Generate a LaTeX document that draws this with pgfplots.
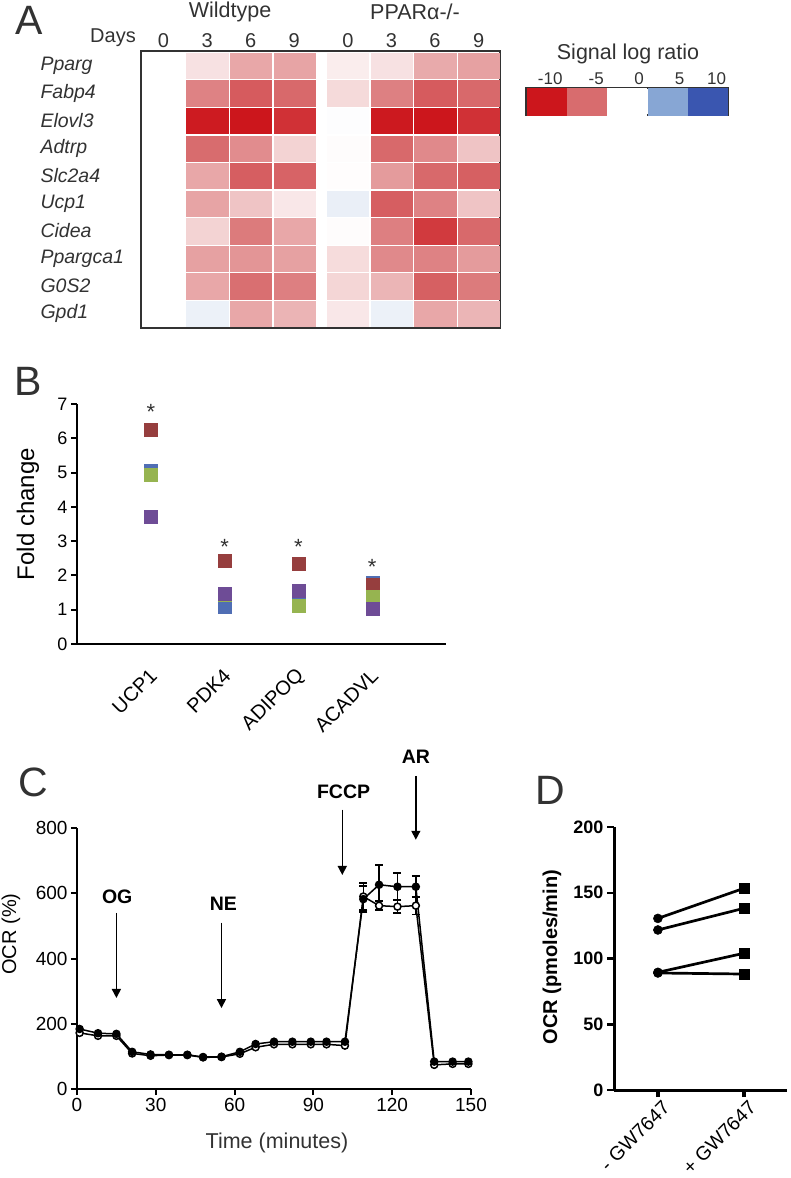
\documentclass[border=0pt]{standalone}
\usepackage{fontspec}
\setmainfont{Liberation Sans}
\usepackage{pgfplots}
\usepackage{pgfplotstable}
\pgfplotsset{compat=1.18}
\usetikzlibrary{arrows.meta}

\definecolor{cRed}{RGB}{150,62,62}
\definecolor{cBlue}{RGB}{80,110,180}
\definecolor{cGreen}{RGB}{150,180,80}
\definecolor{cPurple}{RGB}{110,76,150}
\definecolor{frame}{RGB}{50,50,50}
\newcommand{\fs}[1]{\fontsize{#1}{#1}\selectfont}

\pgfplotsset{colormap={slr}{rgb255=(204,22,28) rgb255=(216,108,110) rgb255=(255,255,255) rgb255=(135,166,212) rgb255=(58,86,176)}}

\pgfplotstableread{
x y v
0 0 0
1 0 -1.0
2 0 -3.0
3 0 -3.1
4.23 0 -0.6
5.23 0 -1.0
6.23 0 -2.9
7.23 0 -3.2
0 1 0
1 1 -4.25
2 1 -6.0
3 1 -5.2
4.23 1 -1.26
5.23 1 -4.3
6.23 1 -6.0
7.23 1 -5.2
0 2 0
1 2 -9.7
2 2 -10
3 2 -8.4
4.23 2 0.1
5.23 2 -9.8
6.23 2 -10
7.23 2 -8.4
0 3 0
1 3 -5.0
2 3 -3.9
3 3 -1.5
4.23 3 -0.1
5.23 3 -5.2
6.23 3 -4.0
7.23 3 -2.0
0 4 0
1 4 -3.0
2 4 -5.8
3 4 -5.5
4.23 4 -0.05
5.23 4 -3.4
6.23 4 -5.2
7.23 4 -5.7
0 5 0
1 5 -3.1
2 5 -2.0
3 5 -0.8
4.23 5 0.9
5.23 5 -5.8
6.23 5 -4.25
7.23 5 -2.0
0 6 0
1 6 -1.5
2 6 -4.5
3 6 -3.0
4.23 6 -0.1
5.23 6 -4.35
6.23 6 -7.9
7.23 6 -5.2
0 7 0
1 7 -3.2
2 7 -3.6
3 7 -3.2
4.23 7 -1.2
5.23 7 -4.0
6.23 7 -4.25
7.23 7 -3.4
0 8 0
1 8 -3.0
2 8 -4.9
3 8 -4.35
4.23 8 -1.4
5.23 8 -2.5
6.23 8 -5.7
7.23 8 -4.5
0 9 0
1 9 0.8
2 9 -3.0
3 9 -2.55
4.23 9 -0.8
5.23 9 0.8
6.23 9 -3.0
7.23 9 -2.5
}\heatdata

\pgfplotstableread{
x y v
0.5 0.5 -10
1.5 0.5 -5
2.5 0.5 0
3.5 0.5 5
4.5 0.5 10
}\legdata

\pgfplotstableread{
x y
0 6.25
1 2.43
2 2.35
3 1.72
}\tRed
\pgfplotstableread{
x y
0 5.05
1 1.10
2 1.20
3 1.78
}\tBlue
\pgfplotstableread{
x y
0 4.93
1 1.45
2 1.11
3 1.38
}\tGreen
\pgfplotstableread{
x y
0 3.73
1 1.46
2 1.57
3 1.02
}\tPurple

\pgfplotstableread{
t f o
1 184 172
8 171 163
15 169 163
21 114 109
28 106 102
35 105 104
42 105 104
48 98 97
55 99 98
62 114 108
68 138 128
75 145 137
82 145 137
89 145 137
95 145 137
102 145 133
109 582 590
115 626 562
122 620 559
129 620 562
136 84 74
143 84 77
149 84 77
}\Cdata

\pgfplotstableread{
t f fe o oe
109 582 40 590 42
115 626 61 562 14
122 620 42 559 20
129 620 33 562 27
}\Cerr

\begin{document}
\begin{tikzpicture}
\useasboundingbox (0pt,0pt) rectangle (790pt,-1178pt);

% ---------------- Panel A ----------------
\node[font=\fs{41}, text=frame] at (29pt,-20pt) {A};
\node[font=\fs{21.5}, text=frame] at (230pt,-12pt) {Wildtype};
\node[font=\fs{21.5}, text=frame] at (415pt,-12pt) {PPARα-/-};
\node[font=\fs{20}, text=frame] at (113pt,-38pt) {Days};
\node[font=\fs{21.5}, text=frame] at (628pt,-54pt) {Signal log ratio};

\begin{axis}[
  at={(141pt,-328pt)}, anchor=south west, scale only axis,
  width=359pt, height=277pt,
  xmin=-0.516, xmax=7.72, ymin=-0.53, ymax=9.52, y dir=reverse,
  axis line style={line width=2pt, draw=frame},
  xtick={0,1,2,3,4.23,5.23,6.23,7.23},
  xticklabels={0,3,6,9,0,3,6,9},
  xticklabel pos=upper,
  ytick={0,...,9},
  yticklabels={Pparg,Fabp4,Elovl3,Adtrp,Slc2a4,Ucp1,Cidea,Ppargca1,G0S2,Gpd1},
  xticklabel style={font=\fs{20}, text=frame},
  yticklabel style={font=\fs{19.5}\itshape, text=frame, anchor=west, xshift=-104pt},
  major tick length=0pt, tick style={draw=none},
  colormap name=slr, point meta min=-10, point meta max=10,
]
\addplot[scatter, only marks, point meta=explicit, mark=square*, mark size=12.7pt,
  scatter/use mapped color={draw=mapped color, fill=mapped color},
  mark options={xscale=1.62, line width=0.2pt}] table[x=x, y=y, meta=v] {\heatdata};
\end{axis}

\begin{axis}[
  at={(526pt,-115pt)}, anchor=south west, scale only axis,
  width=202pt, height=27pt, xmin=0, xmax=5, ymin=0, ymax=1,
  axis line style={line width=2pt, draw=frame},
  xtick={0.6,1.74,2.8,3.8,4.72},
  xticklabels={-10,-5,0,5,10},
  xticklabel pos=upper, ytick=\empty,
  major tick length=0pt, tick style={draw=none},
  xticklabel style={font=\fs{17}, text=frame},
  colormap name=slr, point meta min=-10, point meta max=10,
]
\addplot[scatter, only marks, point meta=explicit, mark=square*, mark size=13.5pt,
  scatter/use mapped color={draw=mapped color, fill=mapped color},
  mark options={xscale=1.45, line width=0.2pt}] table[x=x, y=y, meta=v] {\legdata};
\end{axis}

% ---------------- Panel B ----------------
\node[font=\fs{41}, text=frame] at (28pt,-381pt) {B};
\node[font=\fs{24}, rotate=90] at (28pt,-514pt) {Fold change};
\begin{axis}[
  at={(77pt,-644pt)}, anchor=south west, scale only axis,
  width=369pt, height=240pt,
  xmin=-1, xmax=4, ymin=0, ymax=7,
  axis lines*=left, axis line style={line width=2.2pt},
  ytick={0,...,7}, xtick={0,1,2,3},
  xticklabels={UCP1,PDK4,ADIPOQ,ACADVL},
  tick align=outside, major tick length=6pt,
  ytick style={line width=2pt, black}, xtick style={draw=none},
  yticklabel style={font=\fs{18}},
  xticklabel style={font=\fs{20}, xshift=5pt, yshift=-20pt, rotate=45, anchor=east},
  /pgf/number format/assume math mode=true,
  clip=false,
]
\addplot[only marks, mark=square*, mark size=6.5pt, color=cBlue, mark options={line width=0.2pt}] table[x=x,y=y] {\tBlue};
\addplot[only marks, mark=square*, mark size=6.5pt, color=cRed, mark options={line width=0.2pt}] table[x=x,y=y] {\tRed};
\addplot[only marks, mark=square*, mark size=6.5pt, color=cGreen, mark options={line width=0.2pt}] table[x=x,y=y] {\tGreen};
\addplot[only marks, mark=square*, mark size=6.5pt, color=cPurple, mark options={line width=0.2pt}] table[x=x,y=y] {\tPurple};
\node[font=\fs{22}, text=frame] at (axis cs:0,6.78) {*};
\node[font=\fs{22}, text=frame] at (axis cs:1,2.84) {*};
\node[font=\fs{22}, text=frame] at (axis cs:2,2.84) {*};
\node[font=\fs{22}, text=frame] at (axis cs:3,2.26) {*};
\end{axis}

% ---------------- Panel C ----------------
\node[font=\fs{41}, text=frame] at (33pt,-782pt) {C};
\node[font=\fs{20}, rotate=90] at (11pt,-934pt) {OCR (\%)};
\node[font=\fs{21.5}, text=frame] at (277pt,-1143pt) {Time (minutes)};
\begin{axis}[
  at={(77pt,-1089pt)}, anchor=south west, scale only axis,
  width=394pt, height=261pt,
  xmin=0, xmax=150, ymin=0, ymax=800,
  axis lines*=left, axis line style={line width=2.2pt},
  xtick={0,30,...,150}, ytick={0,200,...,800},
  tick align=outside, major tick length=6pt,
  tick style={line width=2pt, black},
  ticklabel style={font=\fs{19}},
  /pgf/number format/assume math mode=true,
  clip=false,
]
\addplot[draw=none, forget plot, error bars/.cd, y dir=both, y explicit,
  error bar style={draw=black, line width=1.5pt},
  error mark options={draw=black, rotate=90, mark size=4pt, line width=1.5pt}]
  table[x=t, y=o, y error=oe] {\Cerr};
\addplot[draw=none, forget plot, error bars/.cd, y dir=both, y explicit,
  error bar style={draw=black, line width=1.5pt},
  error mark options={draw=black, rotate=90, mark size=4pt, line width=1.5pt}]
  table[x=t, y=f, y error=fe] {\Cerr};
\addplot[black, line width=1.5pt, mark=*, mark size=3.5pt,
  mark options={fill=white, line width=1.5pt}] table[x=t, y=o] {\Cdata};
\addplot[black, line width=1.5pt, mark=*, mark size=3.5pt,
  mark options={fill=black}] table[x=t, y=f] {\Cdata};
\draw[line width=1.5pt, -{Triangle[width=9pt,length=9pt]}] (axis cs:15,540) -- (axis cs:15,279);
\draw[line width=1.5pt, -{Triangle[width=9pt,length=9pt]}] (axis cs:55,510) -- (axis cs:55,248);
\draw[line width=1.5pt, -{Triangle[width=9pt,length=9pt]}] (axis cs:101,856) -- (axis cs:101,656);
\draw[line width=1.5pt, -{Triangle[width=9pt,length=9pt]}] (axis cs:129,960) -- (axis cs:129,764);
\node[font=\fs{19.5}\bfseries] at (axis cs:15.3,589) {OG};
\node[font=\fs{19.5}\bfseries] at (axis cs:55.7,567) {NE};
\node[font=\fs{19.5}\bfseries] at (axis cs:101.5,911) {FCCP};
\node[font=\fs{19.5}\bfseries] at (axis cs:129,1018) {AR};
\end{axis}

% ---------------- Panel D ----------------
\node[font=\fs{41}, text=frame] at (550pt,-790pt) {D};
\node[font=\fs{20}\bfseries, rotate=90] at (552pt,-957pt) {OCR (pmoles/min)};
\begin{axis}[
  at={(614pt,-1090pt)}, anchor=south west, scale only axis,
  width=173pt, height=263pt,
  xmin=0.49, xmax=2.5, ymin=0, ymax=200,
  axis lines*=left, axis line style={line width=3pt},
  xtick={1,2}, xticklabels={- GW7647,+ GW7647}, ytick={0,50,...,200},
  tick align=outside, major tick length=7pt,
  ytick style={line width=2.5pt, black}, xtick style={line width=4pt, black},
  yticklabel style={font=\fs{18}\bfseries},
  xticklabel style={font=\fs{19.5}, xshift=11pt, yshift=-5pt, rotate=45, anchor=east},
  /pgf/number format/assume math mode=true,
  clip=false,
]
\pgfplotsset{dstyle/.style={black, line width=2.7pt, scatter, scatter src=explicit symbolic,
  scatter/classes={a={mark=*, mark size=4.5pt, black}, b={mark=square*, mark size=5pt, black}},
  mark options={line width=0.5pt, fill=black, solid}}}
\addplot[dstyle] table[x=x, y=y, meta=c] {
x y c
1 130.5 a
2 153.4 b
};
\addplot[dstyle] table[x=x, y=y, meta=c] {
x y c
1 121.7 a
2 138.2 b
};
\addplot[dstyle] table[x=x, y=y, meta=c] {
x y c
1 89.5 a
2 104 b
};
\addplot[dstyle] table[x=x, y=y, meta=c] {
x y c
1 89 a
2 88.2 b
};
\end{axis}
\end{tikzpicture}
\end{document}
